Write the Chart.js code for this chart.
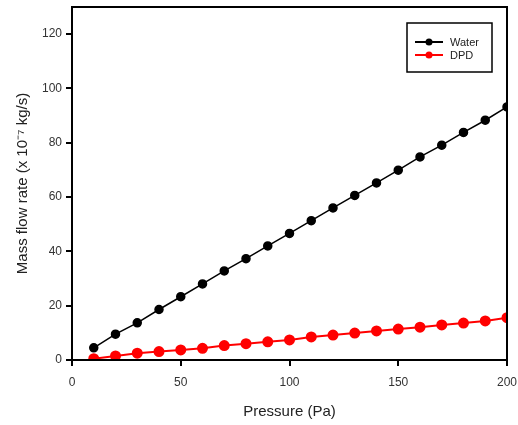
<!DOCTYPE html>
<html>
<head>
<meta charset="utf-8">
<script src="https://cdn.jsdelivr.net/npm/chart.js@4.4.1/dist/chart.umd.min.js"></script>
<style>
  html, body { margin: 0; padding: 0; background: #fff; }
  #wrap { width: 518px; height: 425px; }
</style>
</head>
<body>
<div id="wrap"><canvas id="flowChart"></canvas></div>
<script>
const pressure = [10, 20, 30, 40, 50, 60, 70, 80, 90, 100, 110, 120, 130, 140, 150, 160, 170, 180, 190, 200];
const waterFlow = [4.5, 9.5, 13.7, 18.6, 23.3, 28.0, 32.8, 37.3, 42.0, 46.6, 51.3, 56.0, 60.6, 65.2, 69.9, 74.8, 79.1, 83.8, 88.3, 93.2];
const dpdFlow = [0.5, 1.5, 2.5, 3.1, 3.7, 4.3, 5.3, 6.0, 6.7, 7.4, 8.5, 9.2, 9.9, 10.7, 11.4, 12.1, 12.9, 13.6, 14.4, 15.6];
const xTicks = [0, 50, 100, 150, 200];
const yTicks = [0, 20, 40, 60, 80, 100, 120];

const toPoints = ys => pressure.map((p, i) => ({ x: p, y: ys[i] }));

// frame around the plot area and a boxed legend in the top right corner
const frameAndLegend = {
    id: 'frameAndLegend',
    afterDraw(chart) {
        const ctx = chart.ctx;
        const a = chart.chartArea;
        ctx.save();
        ctx.strokeStyle = '#000';
        ctx.lineWidth = 2;
        ctx.strokeRect(a.left, a.top, a.right - a.left, a.bottom - a.top);

        ctx.lineWidth = 1.5;
        ctx.strokeRect(407, 23, 85, 49);
        ctx.font = '11px "Liberation Sans", Arial, sans-serif';
        ctx.textBaseline = 'middle';
        chart.data.datasets.forEach((ds, i) => {
            const y = 42 + i * 13;
            ctx.strokeStyle = ds.borderColor;
            ctx.lineWidth = 2;
            ctx.beginPath();
            ctx.moveTo(415, y);
            ctx.lineTo(443, y);
            ctx.stroke();
            ctx.fillStyle = ds.pointBackgroundColor;
            ctx.beginPath();
            ctx.arc(429, y, 3.5, 0, Math.PI * 2);
            ctx.fill();
            ctx.fillStyle = '#222';
            ctx.fillText(ds.label, 450, y + 0.5);
        });
        ctx.restore();
    }
};

const ctx = document.getElementById('flowChart').getContext('2d');
const flowChart = new Chart(ctx, {
    type: 'line',
    data: {
        datasets: [{
            label: 'Water',
            data: toPoints(waterFlow),
            borderColor: '#000',
            backgroundColor: '#000',
            pointBackgroundColor: '#000',
            pointBorderColor: '#000',
            borderWidth: 1.5,
            pointRadius: 4,
            tension: 0
        }, {
            label: 'DPD',
            data: toPoints(dpdFlow),
            borderColor: '#ff0000',
            backgroundColor: '#ff0000',
            pointBackgroundColor: '#ff0000',
            pointBorderColor: '#ff0000',
            borderWidth: 2,
            pointRadius: 4.5,
            tension: 0
        }]
    },
    options: {
        responsive: true,
        maintainAspectRatio: false,
        animation: false,
        layout: { padding: { top: 7, right: 11, left: 0, bottom: 0 } },
        plugins: {
            legend: { display: false },
            tooltip: { enabled: false }
        },
        scales: {
            x: {
                type: 'linear',
                min: 0,
                max: 200,
                afterBuildTicks: scale => { scale.ticks = xTicks.map(v => ({ value: v })); },
                afterFit: scale => {
                    scale.height = 65;
                    scale.paddingLeft = 0;
                    scale.paddingRight = 0;
                },
                grid: { drawOnChartArea: false, drawTicks: true, tickLength: 6, color: '#000', lineWidth: 2 },
                border: { display: true, color: '#000', width: 2 },
                ticks: {
                    color: '#333',
                    padding: 9,
                    maxRotation: 0,
                    font: { family: '"Liberation Sans", Arial, sans-serif', size: 12 }
                },
                title: {
                    display: true,
                    text: 'Pressure (Pa)',
                    color: '#222',
                    padding: { top: 6 },
                    font: { family: '"Liberation Sans", Arial, sans-serif', size: 15 }
                }
            },
            y: {
                min: 0,
                max: 130,
                afterBuildTicks: scale => { scale.ticks = yTicks.map(v => ({ value: v })); },
                afterFit: scale => {
                    scale.width = 72;
                    scale.paddingTop = 0;
                    scale.paddingBottom = 0;
                },
                grid: { drawOnChartArea: false, drawTicks: true, tickLength: 6, color: '#000', lineWidth: 2 },
                border: { display: true, color: '#000', width: 2 },
                ticks: {
                    color: '#333',
                    padding: 4,
                    font: { family: '"Liberation Sans", Arial, sans-serif', size: 12 }
                },
                title: {
                    display: true,
                    text: 'Mass flow rate (x 10⁻⁷ kg/s)',
                    color: '#222',
                    padding: { top: 14, bottom: 0 },
                    font: { family: '"Liberation Sans", Arial, sans-serif', size: 15 }
                }
            }
        }
    },
    plugins: [frameAndLegend]
});
</script>
</body>
</html>
